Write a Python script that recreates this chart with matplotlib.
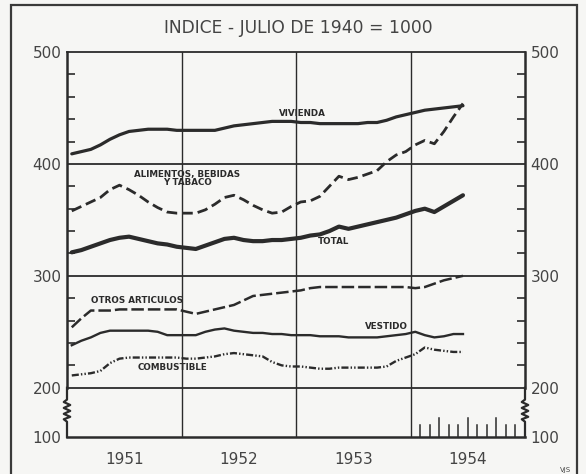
import matplotlib
matplotlib.use("Agg")
import matplotlib.pyplot as plt
import numpy as np
from matplotlib.patches import Rectangle
from matplotlib.transforms import blended_transform_factory

# Monthly index values, January 1951 to June 1954
vivienda = [409, 411, 413, 417, 422, 426, 429, 430, 431, 431, 431, 430,
            430, 430, 430, 430, 432, 434, 435, 436, 437, 438, 438, 438,
            437, 437, 436, 436, 436, 436, 436, 437, 437, 439, 442, 444,
            446, 448, 449, 450, 451, 452]
alimentos = [358, 362, 366, 370, 377, 381, 377, 372, 366, 361, 357, 356,
             356, 356, 359, 364, 370, 372, 368, 363, 359, 356, 357, 362,
             366, 367, 371, 380, 389, 386, 388, 391, 394, 402, 408, 411,
             417, 421, 418, 429, 442, 454]
total = [321, 323, 326, 329, 332, 334, 335, 333, 331, 329, 328, 326,
         325, 324, 327, 330, 333, 334, 332, 331, 331, 332, 332, 333,
         334, 336, 337, 340, 344, 342, 344, 346, 348, 350, 352, 355,
         358, 360, 357, 362, 367, 372]
otros = [254, 262, 269, 269, 269, 270, 270, 270, 270, 270, 270, 270,
         268, 266, 268, 270, 272, 274, 278, 282, 283, 284, 285, 286,
         287, 289, 290, 290, 290, 290, 290, 290, 290, 290, 290, 290,
         289, 290, 293, 296, 298, 300]
vestido = [238, 242, 245, 249, 251, 251, 251, 251, 251, 250, 247, 247,
           247, 247, 250, 252, 253, 251, 250, 249, 249, 248, 248, 247,
           247, 247, 246, 246, 246, 245, 245, 245, 245, 246, 247, 248,
           250, 247, 245, 246, 248, 248]
combustible = [211, 212, 213, 215, 222, 226, 227, 227, 227, 227, 227, 227,
               226, 226, 227, 228, 230, 231, 230, 229, 228, 223, 220, 219,
               219, 218, 217, 217, 218, 218, 218, 218, 218, 219, 224, 227,
               230, 236, 234, 233, 232, 232]

years = [1951, 1952, 1953, 1954]
y_ticks = [100, 200, 300, 400, 500]
title = "INDICE - JULIO DE 1940 = 1000"

INK = "#2b2b2b"
PAPER = "#f6f6f4"
K = 0.44  # compression of the 100-200 band


def fwd(v):
    v = np.asarray(v, dtype=float)
    return np.where(v >= 200, v, 200 - (200 - v) * K)


def inv(v):
    v = np.asarray(v, dtype=float)
    return np.where(v >= 200, v, 200 - (200 - v) / K)


months = 1951 + (np.arange(len(total)) + 0.5) / 12.0

fig = plt.figure(figsize=(5.86, 4.74), dpi=100, facecolor=PAPER)
ax = fig.add_axes([67 / 586, 37 / 474, 458 / 586, 385 / 474])
ax.set_facecolor(PAPER)
ax.set_yscale("function", functions=(fwd, inv))
ax.set_xlim(1951, 1955)
ax.set_ylim(100, 500)

# grid lines
for v in [200, 300, 400]:
    ax.axhline(v, color=INK, lw=1.3, zorder=1)
for yr in years[1:]:
    ax.axvline(yr, color=INK, lw=1.0, zorder=1)

# series
ax.plot(months, vivienda, color=INK, lw=2.3, solid_capstyle="round", zorder=3)
ax.plot(months, alimentos, color=INK, lw=2.0, ls=(0, (3.8, 1.8)), zorder=3)
ax.plot(months, total, color=INK, lw=3.0, solid_capstyle="round", zorder=3)
ax.plot(months, otros, color=INK, lw=1.8, ls=(0, (5, 1.6)), zorder=3)
ax.plot(months, vestido, color=INK, lw=1.7, zorder=3)
ax.plot(months, combustible, color=INK, lw=1.7,
        ls=(0, (3, 0.9, 0.6, 0.9, 0.6, 0.9)), zorder=3)

# series labels
lab = dict(fontsize=6.3, fontweight="bold", color=INK, ha="center", va="center", zorder=4)
ax.text(1953.06, 445, "VIVIENDA", **lab)
ax.text(1952.05, 387, "ALIMENTOS, BEBIDAS\nY TABACO", linespacing=0.95, **lab)
ax.text(1953.33, 331, "TOTAL", **lab)
ax.text(1951.61, 278, "OTROS ARTICULOS", **lab)
ax.text(1953.79, 255, "VESTIDO", **lab)
ax.text(1951.92, 218, "COMBUSTIBLE", **lab)

# spines
for s in ["top", "bottom"]:
    ax.spines[s].set_color(INK)
ax.spines["top"].set_linewidth(1.3)
ax.spines["bottom"].set_linewidth(1.8)
for s in ["left", "right"]:
    ax.spines[s].set_color(INK)
    ax.spines[s].set_linewidth(1.8)
    ax.spines[s].set_bounds(200, 500)

# axis break zigzag on both sides
tr = blended_transform_factory(ax.transAxes, ax.transData)
zy = [200, 176, 171, 165, 159, 153, 147, 141, 136, 131, 100]
zx = np.array([0, 0, -1, 1, -1, 1, -1, 1, -1, 0, 0]) * 0.007
for x0 in [0, 1]:
    ax.plot(x0 + zx, zy, color=INK, lw=1.6, transform=tr, clip_on=False, zorder=5)

# y ticks: labels on both sides, minor ticks every 20 points inward
ax.set_yticks(y_ticks)
ax.set_yticklabels([str(v) for v in y_ticks])
ax.set_yticks([v for v in range(220, 500, 20) if v % 100], minor=True)
ax.tick_params(axis="y", which="major", length=0, pad=4, labelsize=11,
               labelcolor="#444444", left=True, right=True,
               labelleft=True, labelright=True)
ax.tick_params(axis="y", which="minor", direction="in", length=6, width=1.2,
               color=INK, left=True, right=True)

# x ticks: year labels centred, month ticks inside 1954
ax.set_xticks([yr + 0.5 for yr in years])
ax.set_xticklabels([str(yr) for yr in years])
ax.tick_params(axis="x", which="major", length=0, pad=11, labelsize=11,
               labelcolor="#444444")
ax.set_xticks([], minor=True)
tr_x = blended_transform_factory(ax.transData, ax.transAxes)
for k in range(1, 12):
    h = 19 if k % 3 == 0 else 12
    ax.plot([1954 + k / 12.0] * 2, [0, h / 385.0], color=INK, lw=1.1,
            transform=tr_x, clip_on=False, zorder=2)

# outer frame, title and initials
fig.patches.append(Rectangle((11 / 586, -0.05), 566 / 586, 1.05 - 5 / 474,
                             transform=fig.transFigure, fill=False,
                             edgecolor="#3a3a3a", lw=1.6))
fig.text(298.5 / 586, 1 - 28 / 474, title, ha="center", va="center",
         fontsize=12.3, color="#444444")
fig.text(565 / 586, 1 - 470 / 474, "VJS", ha="center", va="center",
         fontsize=5, color="#444444")

fig.savefig("out.png", dpi=100, facecolor=PAPER)
